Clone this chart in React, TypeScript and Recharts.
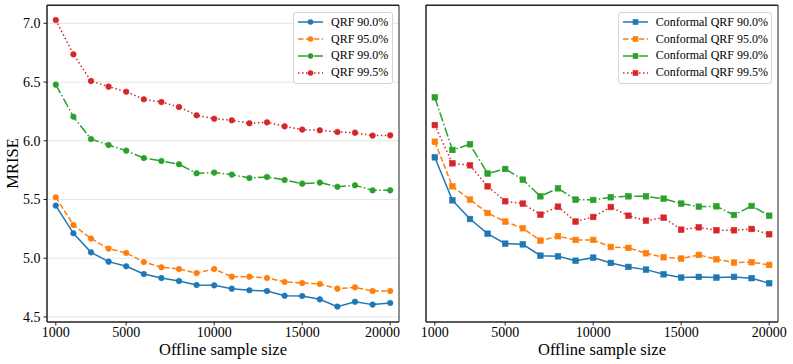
import React from 'react';
import { LineChart, Line, XAxis, YAxis, CartesianGrid, Legend, ReferenceArea } from 'recharts';

const sampleSizes = [1000, 2000, 3000, 4000, 5000, 6000, 7000, 8000, 9000, 10000, 11000, 12000, 13000, 14000, 15000, 16000, 17000, 18000, 19000, 20000];

const qrf90 = [5.448, 5.212, 5.050, 4.971, 4.931, 4.866, 4.832, 4.806, 4.772, 4.769, 4.741, 4.727, 4.721, 4.681, 4.678, 4.650, 4.588, 4.630, 4.605, 4.619];
const qrf95 = [5.519, 5.283, 5.167, 5.082, 5.045, 4.968, 4.923, 4.908, 4.874, 4.908, 4.843, 4.843, 4.832, 4.798, 4.789, 4.781, 4.741, 4.752, 4.721, 4.721];
const qrf99 = [6.478, 6.205, 6.015, 5.964, 5.916, 5.853, 5.828, 5.800, 5.723, 5.729, 5.712, 5.683, 5.692, 5.666, 5.635, 5.644, 5.609, 5.621, 5.578, 5.578];
const qrf995 = [7.028, 6.736, 6.509, 6.461, 6.418, 6.353, 6.330, 6.288, 6.217, 6.188, 6.174, 6.149, 6.157, 6.123, 6.095, 6.089, 6.075, 6.069, 6.044, 6.046];

const cqrf90 = [5.859, 5.493, 5.334, 5.209, 5.124, 5.118, 5.022, 5.016, 4.979, 5.005, 4.960, 4.926, 4.903, 4.863, 4.835, 4.841, 4.835, 4.841, 4.830, 4.787];
const cqrf95 = [5.992, 5.612, 5.499, 5.385, 5.312, 5.255, 5.150, 5.187, 5.156, 5.156, 5.096, 5.088, 5.042, 5.008, 4.997, 5.028, 4.991, 4.963, 4.966, 4.943];
const cqrf99 = [6.370, 5.922, 5.970, 5.721, 5.760, 5.669, 5.527, 5.595, 5.499, 5.496, 5.519, 5.527, 5.527, 5.507, 5.465, 5.439, 5.442, 5.368, 5.445, 5.362];
const cqrf995 = [6.134, 5.808, 5.791, 5.612, 5.485, 5.465, 5.371, 5.439, 5.312, 5.351, 5.436, 5.362, 5.320, 5.345, 5.243, 5.263, 5.238, 5.238, 5.249, 5.204];

const xTicks = [1000, 5000, 10000, 15000, 20000];
const yTicks = [4.5, 5.0, 5.5, 6.0, 6.5, 7.0];

const leftNames = ['QRF 90.0%', 'QRF 95.0%', 'QRF 99.0%', 'QRF 99.5%'];
const rightNames = ['Conformal QRF 90.0%', 'Conformal QRF 95.0%', 'Conformal QRF 99.0%', 'Conformal QRF 99.5%'];

const colors = ['#1f77b4', '#ff7f0e', '#2ca02c', '#d62728'];
const dashes = [undefined, '5.5 2.4', '9.6 2.4 1.5 2.4', '1.5 2.5'];

const FONT = '"Liberation Serif", "Times New Roman", serif';
const X_DOMAIN: [number, number] = [500, 20500];
const Y_DOMAIN: [number, number] = [4.457, 7.156];

const leftSeries = [qrf90, qrf95, qrf99, qrf995];
const rightSeries = [cqrf90, cqrf95, cqrf99, cqrf995];

const leftData = sampleSizes.map((n, i) => {
  const row: any = { n };
  leftSeries.forEach((s, k) => { row['s' + k] = s[i]; });
  return row;
});
const rightData = sampleSizes.map((n, i) => {
  const row: any = { n };
  rightSeries.forEach((s, k) => { row['s' + k] = s[i]; });
  return row;
});

const R = 2.8;

const makeDot = (color: string, shape: 'circle' | 'square') => (props: any) => {
  const { cx, cy, index } = props;
  if (cx == null || cy == null) return <g key={'d' + index} />;
  if (shape === 'circle') {
    return <circle key={'d' + index} cx={cx} cy={cy} r={R} fill={color} stroke={color} strokeWidth={0.6} />;
  }
  return <rect key={'d' + index} x={cx - R} y={cy - R} width={2 * R} height={2 * R} fill={color} stroke={color} strokeWidth={0.6} />;
};

function LegendBox({ names, shape }: { names: string[]; shape: 'circle' | 'square' }) {
  return (
    <div
      style={{
        border: '1px solid #d6d6d6',
        borderRadius: 3,
        background: 'rgba(255,255,255,0.85)',
        padding: '1px 6px 2px 4px',
        fontFamily: FONT,
        fontSize: 12,
        color: '#000',
        boxSizing: 'border-box',
      }}
    >
      {names.map((name, k) => (
        <div key={name} style={{ display: 'flex', alignItems: 'center', height: 16.8, whiteSpace: 'nowrap' }}>
          <svg width={25} height={10} style={{ marginRight: 8, flex: 'none' }}>
            <line x1={0} y1={5} x2={25} y2={5} stroke={colors[k]} strokeWidth={1.5} strokeDasharray={dashes[k]} />
            {shape === 'circle' ? (
              <circle cx={12.5} cy={5} r={R} fill={colors[k]} />
            ) : (
              <rect x={12.5 - R} y={5 - R} width={2 * R} height={2 * R} fill={colors[k]} />
            )}
          </svg>
          <span>{name}</span>
        </div>
      ))}
    </div>
  );
}

const tickStyle = { fill: '#000', fontSize: 14, fontFamily: FONT, style: { fontFamily: FONT } };
const frame = '#222';

function Panel({ data, names, shape, width, margin, yAxisWidth, showYLabels, legendLeft, legendWidth }: any) {
  return (
    <LineChart width={width} height={364} data={data} margin={margin} style={{ fontFamily: FONT }}>
      <CartesianGrid vertical={false} syncWithTicks stroke="#e6e6e6" strokeWidth={1} />
      <XAxis
        dataKey="n"
        type="number"
        domain={X_DOMAIN}
        ticks={xTicks}
        allowDataOverflow
        height={42}
        tickSize={3.5}
        tickMargin={2}
        tick={tickStyle}
        axisLine={{ stroke: frame }}
        tickLine={{ stroke: frame }}
        label={{ value: 'Offline sample size', position: 'insideBottom', offset: 9, style: { fill: '#000', fontSize: 16.5, fontFamily: FONT } }}
      />
      <YAxis
        type="number"
        domain={Y_DOMAIN}
        ticks={yTicks}
        allowDataOverflow
        width={yAxisWidth}
        tickSize={3.5}
        tickMargin={3}
        tick={showYLabels ? tickStyle : false}
        tickFormatter={(v: number) => v.toFixed(1)}
        axisLine={{ stroke: frame }}
        tickLine={{ stroke: frame }}
        label={
          showYLabels
            ? {
                content: (p: any) => {
                  const vb = p.viewBox || {};
                  const x = (vb.x || 0) + 8;
                  const y = (vb.y || 0) + (vb.height || 0) / 2;
                  return (
                    <text x={x} y={y} transform={`rotate(-90 ${x} ${y})`} textAnchor="middle" fill="#000" fontSize={16.5} fontFamily={FONT}>
                      MRISE
                    </text>
                  );
                },
              }
            : undefined
        }
      />
      <ReferenceArea
        x1={X_DOMAIN[0]}
        x2={X_DOMAIN[1]}
        y1={Y_DOMAIN[0]}
        y2={Y_DOMAIN[1]}
        fill="none"
        fillOpacity={0}
        stroke={frame}
        strokeWidth={1}
        ifOverflow="visible"
      />
      {names.map((name: string, k: number) => (
        <Line
          key={name}
          name={name}
          dataKey={'s' + k}
          stroke={colors[k]}
          strokeWidth={1.5}
          strokeDasharray={dashes[k]}
          dot={makeDot(colors[k], shape)}
          activeDot={false}
          isAnimationActive={false}
          type="linear"
        />
      ))}
      <Legend
        layout="horizontal"
        verticalAlign="middle"
        align="center"
        wrapperStyle={{ left: legendLeft, top: 12, width: legendWidth, height: 'auto' }}
        content={() => <LegendBox names={names} shape={shape} />}
      />
    </LineChart>
  );
}

export default function App() {
  return (
    <div style={{ position: 'absolute', left: 0, top: 0, width: 793, height: 364, background: '#fff' }}>
      <div style={{ position: 'absolute', left: 0, top: 0 }}>
        <Panel
          data={leftData}
          names={leftNames}
          shape="circle"
          width={400}
          margin={{ top: 5, right: 1, bottom: 0, left: 10 }}
          yAxisWidth={37}
          showYLabels
          legendLeft={293}
          legendWidth={100}
        />
      </div>
      <div style={{ position: 'absolute', left: 400, top: 0 }}>
        <Panel
          data={rightData}
          names={rightNames}
          shape="square"
          width={393}
          margin={{ top: 5, right: 15, bottom: 0, left: 16 }}
          yAxisWidth={10}
          showYLabels={false}
          legendLeft={217.7}
          legendWidth={154}
        />
      </div>
      <div style={{ position: 'absolute', left: 47, top: 5, width: 352, height: 1, background: frame, zIndex: 10 }} />
      <div style={{ position: 'absolute', left: 426, top: 5, width: 352, height: 1, background: frame, zIndex: 10 }} />
    </div>
  );
}
